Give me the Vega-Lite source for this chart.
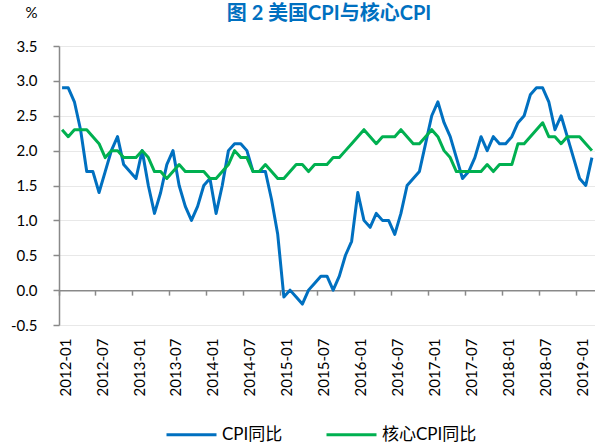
{
  "$schema": "https://vega.github.io/schema/vega-lite/v6.json",
  "width": 536,
  "height": 279,
  "autosize": {"type": "none"},
  "padding": {"left": 59, "top": 46, "right": 0, "bottom": 121},
  "background": "white",
  "config": {"view": {"stroke": null}, "font": "Lato, Noto Sans CJK SC"},
  "title": {"text": "图 2 美国CPI与核心CPI", "font": "Lato, Noto Sans CJK SC", "fontSize": 20, "fontWeight": "bold", "color": "#0070C0", "anchor": "middle", "frame": "group", "dx": 2, "dy": 23},
  "data": {"values": [
    {"month": "2012-01", "cpi": 2.9, "core": 2.3}, {"month": "2012-02", "cpi": 2.9, "core": 2.2}, {"month": "2012-03", "cpi": 2.7, "core": 2.3}, {"month": "2012-04", "cpi": 2.3, "core": 2.3}, {"month": "2012-05", "cpi": 1.7, "core": 2.3}, {"month": "2012-06", "cpi": 1.7, "core": 2.2}, {"month": "2012-07", "cpi": 1.4, "core": 2.1}, {"month": "2012-08", "cpi": 1.7, "core": 1.9}, {"month": "2012-09", "cpi": 2.0, "core": 2.0}, {"month": "2012-10", "cpi": 2.2, "core": 2.0}, {"month": "2012-11", "cpi": 1.8, "core": 1.9}, {"month": "2012-12", "cpi": 1.7, "core": 1.9},
    {"month": "2013-01", "cpi": 1.6, "core": 1.9}, {"month": "2013-02", "cpi": 2.0, "core": 2.0}, {"month": "2013-03", "cpi": 1.5, "core": 1.9}, {"month": "2013-04", "cpi": 1.1, "core": 1.7}, {"month": "2013-05", "cpi": 1.4, "core": 1.7}, {"month": "2013-06", "cpi": 1.8, "core": 1.6}, {"month": "2013-07", "cpi": 2.0, "core": 1.7}, {"month": "2013-08", "cpi": 1.5, "core": 1.8}, {"month": "2013-09", "cpi": 1.2, "core": 1.7}, {"month": "2013-10", "cpi": 1.0, "core": 1.7}, {"month": "2013-11", "cpi": 1.2, "core": 1.7}, {"month": "2013-12", "cpi": 1.5, "core": 1.7},
    {"month": "2014-01", "cpi": 1.6, "core": 1.6}, {"month": "2014-02", "cpi": 1.1, "core": 1.6}, {"month": "2014-03", "cpi": 1.5, "core": 1.7}, {"month": "2014-04", "cpi": 2.0, "core": 1.8}, {"month": "2014-05", "cpi": 2.1, "core": 2.0}, {"month": "2014-06", "cpi": 2.1, "core": 1.9}, {"month": "2014-07", "cpi": 2.0, "core": 1.9}, {"month": "2014-08", "cpi": 1.7, "core": 1.7}, {"month": "2014-09", "cpi": 1.7, "core": 1.7}, {"month": "2014-10", "cpi": 1.7, "core": 1.8}, {"month": "2014-11", "cpi": 1.3, "core": 1.7}, {"month": "2014-12", "cpi": 0.8, "core": 1.6},
    {"month": "2015-01", "cpi": -0.1, "core": 1.6}, {"month": "2015-02", "cpi": 0.0, "core": 1.7}, {"month": "2015-03", "cpi": -0.1, "core": 1.8}, {"month": "2015-04", "cpi": -0.2, "core": 1.8}, {"month": "2015-05", "cpi": 0.0, "core": 1.7}, {"month": "2015-06", "cpi": 0.1, "core": 1.8}, {"month": "2015-07", "cpi": 0.2, "core": 1.8}, {"month": "2015-08", "cpi": 0.2, "core": 1.8}, {"month": "2015-09", "cpi": 0.0, "core": 1.9}, {"month": "2015-10", "cpi": 0.2, "core": 1.9}, {"month": "2015-11", "cpi": 0.5, "core": 2.0}, {"month": "2015-12", "cpi": 0.7, "core": 2.1},
    {"month": "2016-01", "cpi": 1.4, "core": 2.2}, {"month": "2016-02", "cpi": 1.0, "core": 2.3}, {"month": "2016-03", "cpi": 0.9, "core": 2.2}, {"month": "2016-04", "cpi": 1.1, "core": 2.1}, {"month": "2016-05", "cpi": 1.0, "core": 2.2}, {"month": "2016-06", "cpi": 1.0, "core": 2.2}, {"month": "2016-07", "cpi": 0.8, "core": 2.2}, {"month": "2016-08", "cpi": 1.1, "core": 2.3}, {"month": "2016-09", "cpi": 1.5, "core": 2.2}, {"month": "2016-10", "cpi": 1.6, "core": 2.1}, {"month": "2016-11", "cpi": 1.7, "core": 2.1}, {"month": "2016-12", "cpi": 2.1, "core": 2.2},
    {"month": "2017-01", "cpi": 2.5, "core": 2.3}, {"month": "2017-02", "cpi": 2.7, "core": 2.2}, {"month": "2017-03", "cpi": 2.4, "core": 2.0}, {"month": "2017-04", "cpi": 2.2, "core": 1.9}, {"month": "2017-05", "cpi": 1.9, "core": 1.7}, {"month": "2017-06", "cpi": 1.6, "core": 1.7}, {"month": "2017-07", "cpi": 1.7, "core": 1.7}, {"month": "2017-08", "cpi": 1.9, "core": 1.7}, {"month": "2017-09", "cpi": 2.2, "core": 1.7}, {"month": "2017-10", "cpi": 2.0, "core": 1.8}, {"month": "2017-11", "cpi": 2.2, "core": 1.7}, {"month": "2017-12", "cpi": 2.1, "core": 1.8},
    {"month": "2018-01", "cpi": 2.1, "core": 1.8}, {"month": "2018-02", "cpi": 2.2, "core": 1.8}, {"month": "2018-03", "cpi": 2.4, "core": 2.1}, {"month": "2018-04", "cpi": 2.5, "core": 2.1}, {"month": "2018-05", "cpi": 2.8, "core": 2.2}, {"month": "2018-06", "cpi": 2.9, "core": 2.3}, {"month": "2018-07", "cpi": 2.9, "core": 2.4}, {"month": "2018-08", "cpi": 2.7, "core": 2.2}, {"month": "2018-09", "cpi": 2.3, "core": 2.2}, {"month": "2018-10", "cpi": 2.5, "core": 2.1}, {"month": "2018-11", "cpi": 2.2, "core": 2.2}, {"month": "2018-12", "cpi": 1.9, "core": 2.2},
    {"month": "2019-01", "cpi": 1.6, "core": 2.2}, {"month": "2019-02", "cpi": 1.5, "core": 2.1}, {"month": "2019-03", "cpi": 1.9, "core": 2.0}
  ]},
  "transform": [{"fold": ["cpi", "core"], "as": ["series", "value"]}],
  "mark": {"type": "line", "strokeWidth": 3, "strokeJoin": "round"},
  "encoding": {
    "x": {
      "field": "month", "type": "ordinal",
      "scale": {"type": "band", "paddingInner": 0, "paddingOuter": 0},
      "axis": {
        "title": null,
        "values": ["2012-01", "2012-07", "2013-01", "2013-07", "2014-01", "2014-07", "2015-01", "2015-07", "2016-01", "2016-07", "2017-01", "2017-07", "2018-01", "2018-07", "2019-01"],
        "bandPosition": 0,
        "labelOffset": 3.5,
        "labelAngle": 270,
        "labelAlign": "right",
        "labelBaseline": "middle",
        "labelFontSize": 15,
        "labelColor": "#000000",
        "labelPadding": 43,
        "labelOverlap": false,
        "tickSize": 5,
        "tickWidth": 1.5,
        "tickColor": "#898989",
        "domainColor": "#898989",
        "domainWidth": 1.5,
        "offset": -34.875,
        "grid": false
      }
    },
    "y": {
      "field": "value", "type": "quantitative",
      "scale": {"domain": [-0.5, 3.5], "nice": false, "zero": false},
      "axis": {
        "values": [-0.5, 0, 0.5, 1, 1.5, 2, 2.5, 3, 3.5],
        "labelExpr": "datum.value < 0 ? '-' + format(-datum.value, '.1f') : format(datum.value, '.1f')",
        "title": "%",
        "titleAngle": 0,
        "titleX": -28,
        "titleY": -34,
        "titleAlign": "center",
        "titleBaseline": "middle",
        "titleFontSize": 15,
        "titleFontWeight": "normal",
        "titleColor": "#000000",
        "labelFontSize": 15,
        "labelColor": "#000000",
        "labelPadding": 16,
        "tickSize": 6,
        "tickWidth": 1.5,
        "tickColor": "#898989",
        "domainColor": "#898989",
        "domainWidth": 1.5,
        "grid": true,
        "gridColor": "#E8E8E8",
        "gridWidth": 1
      }
    },
    "color": {
      "field": "series", "type": "nominal",
      "scale": {"domain": ["cpi", "core"], "range": ["#0070C0", "#00B050"]},
      "legend": {
        "orient": "none",
        "legendX": 106,
        "legendY": 362,
        "direction": "horizontal",
        "title": null,
        "symbolType": "stroke",
        "symbolSize": 2500,
        "symbolStrokeWidth": 3,
        "labelFontSize": 17,
        "labelColor": "#000000",
        "labelOffset": 4,
        "columnPadding": 37,
        "padding": 0,
        "labelLimit": 0,
        "labelExpr": "datum.label == 'cpi' ? 'CPI同比' : '核心CPI同比'"
      }
    }
  }
}
